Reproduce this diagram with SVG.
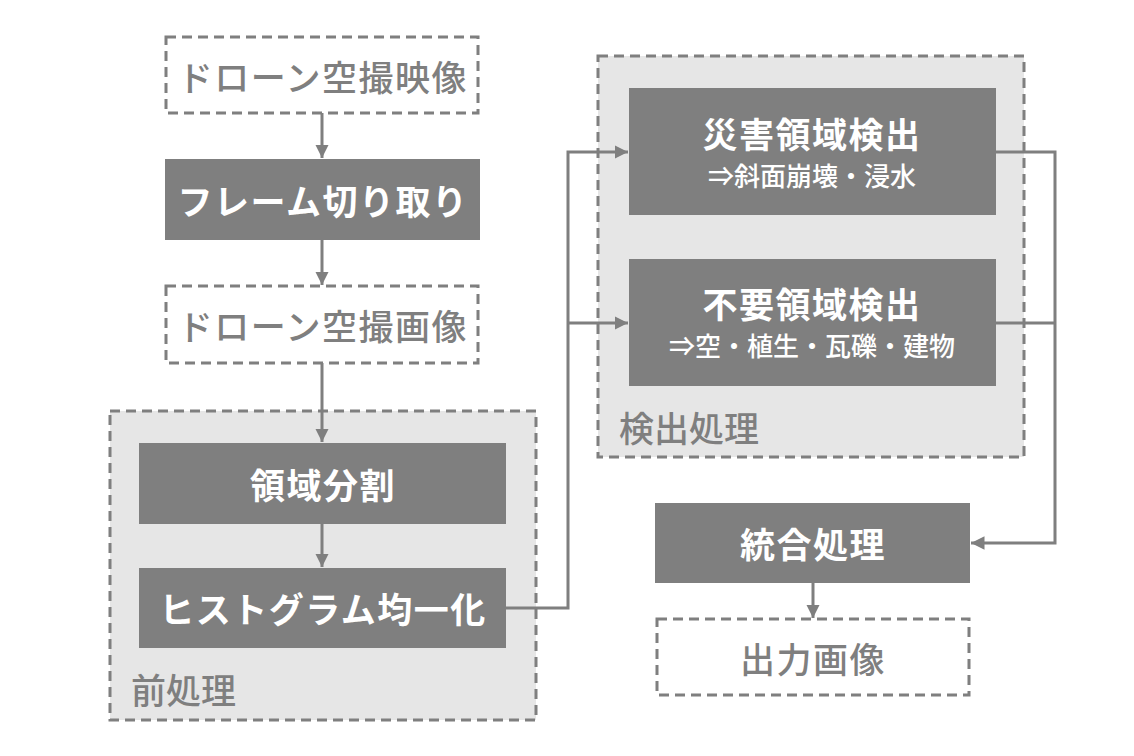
<svg xmlns="http://www.w3.org/2000/svg" width="1134" height="756" viewBox="0 0 1134 756">
  <style>
    .grp { fill: #e6e6e6; stroke: #7f7f7f; stroke-width: 3; stroke-dasharray: 10 6; }
    .io { fill: #ffffff; stroke: #7f7f7f; stroke-width: 3; stroke-dasharray: 10 6; }
    .proc { fill: #7f7f7f; }
    .t { font-family: "Noto Sans CJK JP", "Noto Sans", sans-serif; text-anchor: middle; dominant-baseline: central; }
    .tw { fill: #ffffff; font-weight: bold; font-size: 35px; letter-spacing: 1.5px; }
    .tg { fill: #7f7f7f; font-weight: 500; font-size: 35px; letter-spacing: 1.5px; }
    .sub { fill: #ffffff; font-weight: 500; font-size: 26px; }
    .lbl { font-family: "Noto Sans CJK JP", "Noto Sans", sans-serif; fill: #7f7f7f; font-weight: 500; font-size: 35px; }
    .edge { fill: none; stroke: #7f7f7f; stroke-width: 3; }
  </style>
  <defs>
    <marker id="arrow" viewBox="0 0 10 10" refX="10" refY="5" markerWidth="4.5" markerHeight="4.5" orient="auto" markerUnits="strokeWidth">
      <path d="M0,0 L10,5 L0,10 z" fill="#7f7f7f"/>
    </marker>
  </defs>

  <!-- group containers -->
  <g id="group-preprocess">
    <rect class="grp" x="110" y="411" width="426" height="309"/>
    <text class="lbl" x="131" y="704">前処理</text>
  </g>
  <g id="group-detect">
    <rect class="grp" x="598" y="56" width="426" height="401"/>
    <text class="lbl" x="619" y="442">検出処理</text>
  </g>

  <!-- connectors -->
  <g id="connectors">
    <path class="edge" d="M322,113 L322,158" marker-end="url(#arrow)"/>
    <path class="edge" d="M322,240 L322,285" marker-end="url(#arrow)"/>
    <path class="edge" d="M322,363 L322,442" marker-end="url(#arrow)"/>
    <path class="edge" d="M322,524 L322,567" marker-end="url(#arrow)"/>
    <path class="edge" d="M506,608 L568,608 L568,152 L628,152" marker-end="url(#arrow)"/>
    <path class="edge" d="M568,323 L628,323" marker-end="url(#arrow)"/>
    <path class="edge" d="M996,152 L1055,152 L1055,543 L971,543" marker-end="url(#arrow)"/>
    <path class="edge" d="M996,323 L1055,323"/>
    <path class="edge" d="M813,583 L813,618" marker-end="url(#arrow)"/>
  </g>

  <!-- nodes -->
  <g id="node-video">
    <rect class="io" x="166" y="37" width="312" height="76"/>
    <text class="t tg" x="323" y="75">ドローン空撮映像</text>
  </g>
  <g id="node-frame">
    <rect class="proc" x="165" y="159" width="315" height="81"/>
    <text class="t tw" x="323" y="199">フレーム切り取り</text>
  </g>
  <g id="node-image">
    <rect class="io" x="166" y="286" width="312" height="77"/>
    <text class="t tg" x="323" y="324">ドローン空撮画像</text>
  </g>
  <g id="node-segment">
    <rect class="proc" x="139" y="443" width="367" height="81"/>
    <text class="t tw" x="323" y="483">領域分割</text>
  </g>
  <g id="node-histeq">
    <rect class="proc" x="139" y="568" width="367" height="80"/>
    <text class="t tw" x="323" y="607">ヒストグラム均一化</text>
  </g>
  <g id="node-disaster">
    <rect class="proc" x="629" y="88" width="367" height="127"/>
    <text class="t tw" x="812" y="132">災害領域検出</text>
    <text class="t sub" x="812" y="174">⇒斜面崩壊・浸水</text>
  </g>
  <g id="node-unneeded">
    <rect class="proc" x="629" y="259" width="367" height="127"/>
    <text class="t tw" x="812" y="302">不要領域検出</text>
    <text class="t sub" x="812" y="344">⇒空・植生・瓦礫・建物</text>
  </g>
  <g id="node-merge">
    <rect class="proc" x="655" y="503" width="315" height="80"/>
    <text class="t tw" x="813" y="542">統合処理</text>
  </g>
  <g id="node-output">
    <rect class="io" x="657" y="619" width="312" height="76"/>
    <text class="t tg" x="813" y="657">出力画像</text>
  </g>
</svg>
